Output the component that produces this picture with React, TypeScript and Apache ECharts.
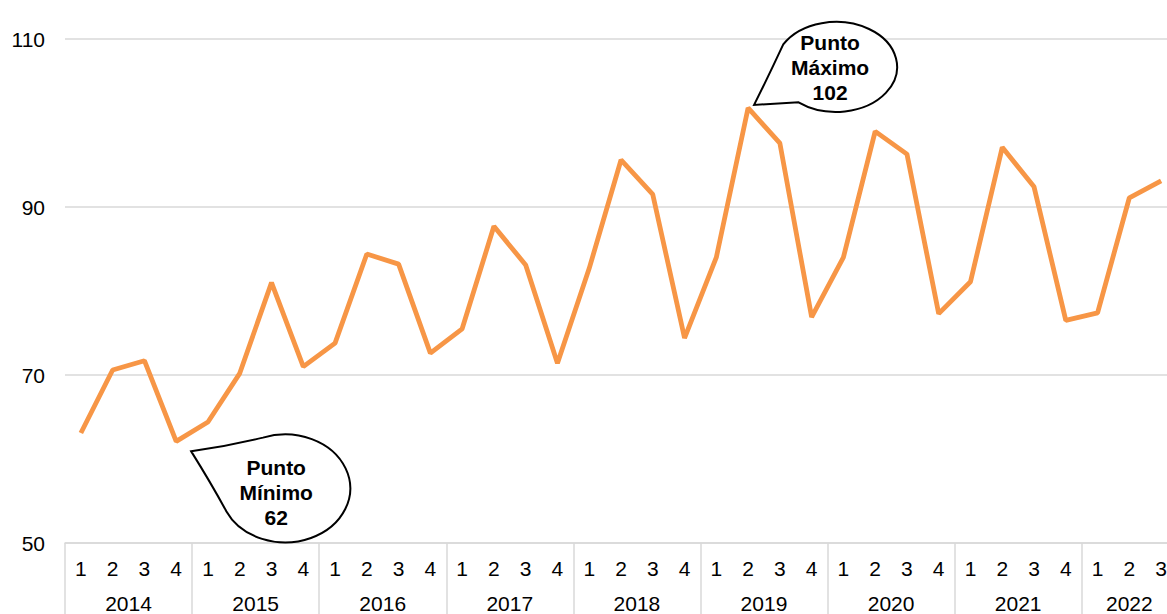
import React, { useEffect, useRef } from "react";
import * as echarts from "echarts";

// ---- data ----
const years = ["2014", "2015", "2016", "2017", "2018", "2019", "2020", "2021", "2022"];
const quarterLabels = ["1", "2", "3", "4"];
const quartersPerYear = [4, 4, 4, 4, 4, 4, 4, 4, 3];
const values = [
  63.1, 70.6, 71.7, 62.1,
  64.4, 70.2, 81.0, 71.0,
  73.8, 84.4, 83.2, 72.6,
  75.5, 87.7, 83.1, 71.4,
  82.7, 95.6, 91.5, 74.4,
  84.0, 101.8, 97.6, 76.9,
  84.0, 99.0, 96.3, 77.3,
  81.1, 97.1, 92.4, 76.5,
  77.4, 91.1, 93.1,
];
const yTicks = [50, 70, 90, 110];

// ---- derived ----
const categories: string[] = [];
const yearOfIndex: string[] = [];
const yearBoundaries: number[] = [];
const yearCenters: number[] = [];
{
  let idx = 0;
  years.forEach((y, i) => {
    const n = quartersPerYear[i];
    yearBoundaries.push(idx - 0.5);
    yearCenters.push(idx + (n - 1) / 2);
    for (let q = 0; q < n; q++) {
      categories.push(quarterLabels[q]);
      yearOfIndex.push(y);
      idx++;
    }
  });
}

let maxIdx = 0;
let minIdx = 0;
values.forEach((v, i) => {
  if (v > values[maxIdx]) maxIdx = i;
  if (v < values[minIdx]) minIdx = i;
});

const annotations = [
  { index: maxIdx, title: "Punto\nMáximo", kind: "max" },
  { index: minIdx, title: "Punto\nMínimo", kind: "min" },
];

// ---- bubble geometry (style) ----
function ellipsePt(cx: number, cy: number, rx: number, ry: number, deg: number) {
  const t = (deg * Math.PI) / 180;
  return [cx + rx * Math.cos(t), cy + ry * Math.sin(t)];
}

const bubbleStyles: Record<string, any> = (() => {
  // max bubble, coordinates relative to tail tip
  const mc = { cx: 82, cy: -38, rx: 61, ry: 45 };
  const mu = ellipsePt(mc.cx, mc.cy, mc.rx, mc.ry, 210);
  const ml = ellipsePt(mc.cx, mc.cy, mc.rx, mc.ry, 128);
  const maxPath = `M0 0 Q15 -30 ${mu[0]} ${mu[1]} A${mc.rx} ${mc.ry} 0 1 1 ${ml[0]} ${ml[1]} Z`;
  const nc = { cx: 94, cy: 37, rx: 65, ry: 54 };
  const nu = ellipsePt(nc.cx, nc.cy, nc.rx, nc.ry, 250);
  const nl = ellipsePt(nc.cx, nc.cy, nc.rx, nc.ry, 155);
  const minPath = `M0 0 Q36 -5 ${nu[0]} ${nu[1]} A${nc.rx} ${nc.ry} 0 1 1 ${nl[0]} ${nl[1]} Q20 32 0 0 Z`;
  return {
    max: { path: maxPath, tip: [6, -3], text: [76, -37] },
    min: { path: minPath, tip: [15, 10], text: [85, 41] },
  };
})();

const FONT = "Liberation Sans, Arial, sans-serif";

export default function App() {
  const ref = useRef<HTMLDivElement>(null);

  useEffect(() => {
    document.body.style.overflow = "hidden";
    const chart = echarts.init(ref.current!, null, { renderer: "svg" });
    chart.setOption({
      animation: false,
      textStyle: { fontFamily: FONT },
      grid: {
        left: 65,
        top: 39,
        right: -10,
        bottom: 71,
        containLabel: false,
        outerBoundsMode: "none",
      },
      xAxis: [
        {
          type: "category",
          data: categories,
          boundaryGap: true,
          axisLine: { show: true, lineStyle: { color: "#D9D9D9", width: 1.5 } },
          axisTick: { show: false },
          axisLabel: {
            interval: 0,
            margin: 15,
            fontSize: 21,
            color: "#000",
            fontFamily: FONT,
          },
          splitLine: { show: false },
        },
        {
          type: "value",
          position: "bottom",
          min: -0.5,
          max: categories.length - 0.5,
          axisLine: { show: false },
          axisTick: {
            show: true,
            length: 80,
            customValues: yearBoundaries,
            lineStyle: { color: "#D9D9D9", width: 1.5 },
          },
          axisLabel: {
            show: true,
            customValues: yearCenters,
            margin: 50,
            fontSize: 21,
            color: "#000",
            fontFamily: FONT,
            formatter: (v: number) => yearOfIndex[Math.round(v)] ?? "",
          },
          splitLine: { show: false },
        },
      ],
      yAxis: {
        type: "value",
        min: 50,
        max: 110,
        interval: 20,
        axisLine: { show: false },
        axisTick: { show: false },
        axisLabel: {
          margin: 20,
          fontSize: 21,
          color: "#000",
          fontFamily: FONT,
          customValues: yTicks,
        },
        splitLine: { show: true, lineStyle: { color: "#D9D9D9", width: 1.5 } },
      },
      series: [
        {
          type: "line",
          data: values,
          xAxisIndex: 0,
          yAxisIndex: 0,
          symbol: "none",
          lineStyle: { color: "#F79646", width: 4.8 },
          z: 2,
        },
        {
          type: "custom",
          coordinateSystem: "cartesian2d",
          xAxisIndex: 0,
          yAxisIndex: 0,
          clip: false,
          z: 10,
          silent: true,
          data: annotations.map((a) => [a.index, values[a.index]]),
          renderItem: (params: any, api: any) => {
            const a = annotations[params.dataIndex];
            const st = bubbleStyles[a.kind];
            const p = api.coord([api.value(0), api.value(1)]);
            const label = `${a.title}\n${Math.round(values[a.index])}`;
            return {
              type: "group",
              x: p[0] + st.tip[0],
              y: p[1] + st.tip[1],
              children: [
                {
                  type: "path",
                  shape: { pathData: st.path },
                  style: { fill: "#fff", stroke: "#000", lineWidth: 2 },
                },
                {
                  type: "text",
                  x: st.text[0],
                  y: st.text[1],
                  style: {
                    text: label,
                    fill: "#000",
                    font: `bold 21px ${FONT}`,
                    align: "center",
                    verticalAlign: "middle",
                    lineHeight: 25,
                  },
                },
              ],
            };
          },
        },
      ],
    });
    return () => chart.dispose();
  }, []);

  return (
    <div
      ref={ref}
      style={{ position: "absolute", left: 0, top: 0, width: 1167, height: 614, background: "#fff" }}
    />
  );
}
